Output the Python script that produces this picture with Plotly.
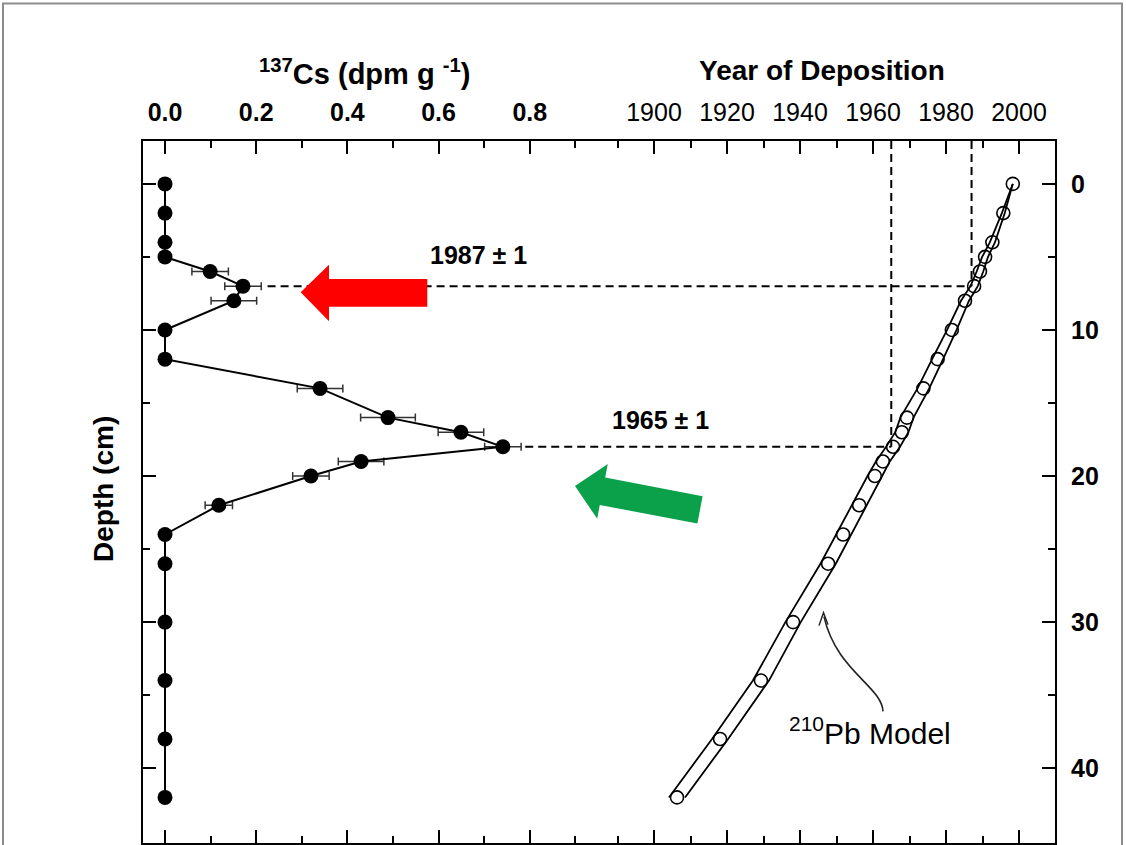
import plotly.graph_objects as go

# --- data ---
depth = [0, 2, 4, 5, 6, 7, 8, 10, 12, 14, 16, 17, 18, 19, 20, 22, 24, 26, 30, 34, 38, 42]
cs137 = [0, 0, 0, 0, 0.099, 0.171, 0.151, 0, 0, 0.34, 0.489, 0.649, 0.741, 0.43, 0.32,
         0.118, 0, 0, 0, 0, 0, 0]
cs137_err = [0, 0, 0, 0, 0.04, 0.04, 0.05, 0, 0, 0.05, 0.06, 0.05, 0.04, 0.05, 0.04,
             0.03, 0, 0, 0, 0, 0, 0]
pb_year = [1998.3, 1995.7, 1992.7, 1990.7, 1989.3, 1987.7, 1985.2, 1981.6, 1977.7, 1973.8,
           1969.3, 1967.9, 1965.5, 1962.7, 1960.5, 1956.2, 1951.8, 1947.7, 1938.1, 1929.3,
           1918.1, 1906.3]
pb_err = [0, 0.4, 0.7, 0.8, 0.9, 1.0, 1.1, 1.3, 1.5, 1.6, 1.8, 1.8, 1.9, 1.9, 2.0, 2.0,
          2.1, 2.1, 2.1, 2.2, 2.2, 2.2]

cs_ticks = [0, 0.2, 0.4, 0.6, 0.8]
cs_minor = [0.1, 0.3, 0.5, 0.7, 0.9]
year_ticks = [1900, 1920, 1940, 1960, 1980, 2000]
year_minor = [1890, 1910, 1930, 1950, 1970, 1990]
depth_ticks = [0, 10, 20, 30, 40]
depth_minor = [5, 15, 25, 35]

markers = [("1987 ± 1", 1987, 7, 0.225), ("1965 ± 1", 1965, 18, 0.79)]

# --- layout geometry (pixels) ---
W, H = 1126, 845
L, R, T, B = 143, 1055, 141, 845
CS_RANGE = [-0.04825, 1.9518]
YEAR_RANGE = [1760.0, 2009.86]
DEPTH_RANGE = [45.12, -2.935]
FONT = "Liberation Sans, Arial, sans-serif"


def px(x):
    return (x - L) / (R - L)


def py(y):
    return (B - y) / (B - T)


def cs_to_year(v):
    f = (v - CS_RANGE[0]) / (CS_RANGE[1] - CS_RANGE[0])
    return YEAR_RANGE[0] + f * (YEAR_RANGE[1] - YEAR_RANGE[0])


def path(points, close=True):
    s = "M " + " L ".join(f"{px(x):.5f},{py(y):.5f}" for x, y in points)
    return s + (" Z" if close else "")


fig = go.Figure()

# Pb-210 model envelope
fig.add_trace(go.Scatter(x=[y - e for y, e in zip(pb_year, pb_err)], y=depth, xaxis="x2",
                         mode="lines", line=dict(color="black", width=1.8), hoverinfo="skip"))
fig.add_trace(go.Scatter(x=[y + e for y, e in zip(pb_year, pb_err)], y=depth, xaxis="x2",
                         mode="lines", line=dict(color="black", width=1.8), hoverinfo="skip"))
fig.add_trace(go.Scatter(x=pb_year, y=depth, xaxis="x2", mode="markers",
                         marker=dict(symbol="circle-open", size=13, color="black",
                                     line=dict(width=1.6))))

# Cs-137 profile
fig.add_trace(go.Scatter(x=cs137, y=depth, xaxis="x", mode="lines+markers",
                         line=dict(color="black", width=2),
                         marker=dict(size=15, color="black"),
                         error_x=dict(type="data", array=cs137_err, color="#333",
                                      thickness=1.5, width=4)))

# dashed guide lines
shapes = []
for label, yr, d, cs_start in markers:
    shapes.append(dict(type="line", xref="x2", yref="y", x0=cs_to_year(cs_start), x1=yr,
                       y0=d, y1=d, line=dict(color="black", width=2, dash="8px,5px")))
    shapes.append(dict(type="line", xref="x2", yref="y", x0=yr, x1=yr,
                       y0=DEPTH_RANGE[1], y1=d, line=dict(color="black", width=2, dash="8px,5px")))

# red arrow
red = [(300.7, 292.7), (329, 265), (329, 279.3), (427.3, 279.3), (427.3, 307.3),
       (329, 307.3), (329, 321.7)]
shapes.append(dict(type="path", xref="paper", yref="paper", path=path(red),
                   fillcolor="#ff0000", line=dict(width=0)))
# green arrow
green = [(575, 487), (607.8, 464.8), (605.2, 478.5), (702.6, 497.3), (697.4, 524.7),
         (599.8, 506.0), (597.2, 519.8)]
shapes.append(dict(type="path", xref="paper", yref="paper", path=path(green),
                   fillcolor="#0ba14b", line=dict(width=0)))
# curved pointer for the model label
curve = (f"M {px(883):.5f},{py(713):.5f} C {px(882):.5f},{py(688):.5f} "
         f"{px(836):.5f},{py(672):.5f} {px(824):.5f},{py(618):.5f}")
shapes.append(dict(type="path", xref="paper", yref="paper", path=curve,
                   line=dict(color="#222", width=1.6)))
shapes.append(dict(type="path", xref="paper", yref="paper",
                   path=path([(819, 627), (823.5, 614), (828, 626)], close=False),
                   line=dict(color="#222", width=1.4)))
# outer frame
shapes.append(dict(type="rect", xref="paper", yref="paper", x0=px(3), x1=px(1122),
                   y0=py(900), y1=py(3), line=dict(color="#8c8c8c", width=2)))

annotations = [
    dict(x=px(364), y=py(72), text="<b><sup>137</sup>Cs (dpm g <sup>-1</sup>)</b>",
         font=dict(size=29)),
    dict(x=px(822), y=py(70), text="<b>Year of Deposition</b>", font=dict(size=28)),
    dict(x=px(103), y=py(490), text="<b>Depth (cm)</b>", textangle=-90, font=dict(size=28)),
    dict(x=px(478), y=py(255), text="<b>" + markers[0][0] + "</b>", font=dict(size=25)),
    dict(x=px(660), y=py(421), text="<b>" + markers[1][0] + "</b>", font=dict(size=25)),
    dict(x=px(870), y=py(733), text="<sup>210</sup>Pb Model", font=dict(size=30)),
]
for a in annotations:
    a.update(xref="paper", yref="paper", showarrow=False, xanchor="center", yanchor="middle")
    a["font"].update(family=FONT, color="black")

axis_common = dict(showline=True, linecolor="black", linewidth=2, ticks="inside",
                   ticklen=13, tickwidth=2, tickcolor="black", showgrid=False, zeroline=False,
                   tickfont=dict(family=FONT, size=25, color="black"))
minor_ticks = dict(ticks="inside", ticklen=7, tickwidth=2, tickcolor="black")

fig.update_layout(
    width=W, height=H,
    margin=dict(l=L, r=W - R, t=T, b=H - B, pad=0),
    paper_bgcolor="white", plot_bgcolor="white", showlegend=False,
    xaxis=dict(range=CS_RANGE, side="top", tickvals=cs_ticks,
               ticktext=[f"<b>{v:.1f}</b>" for v in cs_ticks], mirror="ticks",
               ticklabelstandoff=8, minor=dict(tickvals=cs_minor, **minor_ticks),
               **axis_common),
    xaxis2=dict(range=YEAR_RANGE, side="top", overlaying="x", anchor="y", tickvals=year_ticks,
                mirror="ticks", ticklabelstandoff=8,
                minor=dict(tickvals=year_minor, **minor_ticks), **axis_common),
    yaxis=dict(range=DEPTH_RANGE, tickvals=depth_ticks, showticklabels=False, mirror="ticks",
               minor=dict(tickvals=depth_minor, **minor_ticks), **axis_common),
    yaxis2=dict(range=DEPTH_RANGE, overlaying="y", side="right", anchor="x",
                tickvals=depth_ticks, ticktext=[f"<b>{v}</b>" for v in depth_ticks],
                showline=False, ticks="", showgrid=False, zeroline=False,
                ticklabelstandoff=15, tickfont=dict(family=FONT, size=25, color="black")),
    shapes=shapes, annotations=annotations,
)

# empty trace so the right axis is drawn
fig.add_trace(go.Scatter(x=[None], y=[None], yaxis="y2", xaxis="x", hoverinfo="skip"))

# drop the default page margin so the figure sits at the window corner
fig.write_html("out.html", config={"displayModeBar": False},
               post_script="document.body.style.margin='0';")
